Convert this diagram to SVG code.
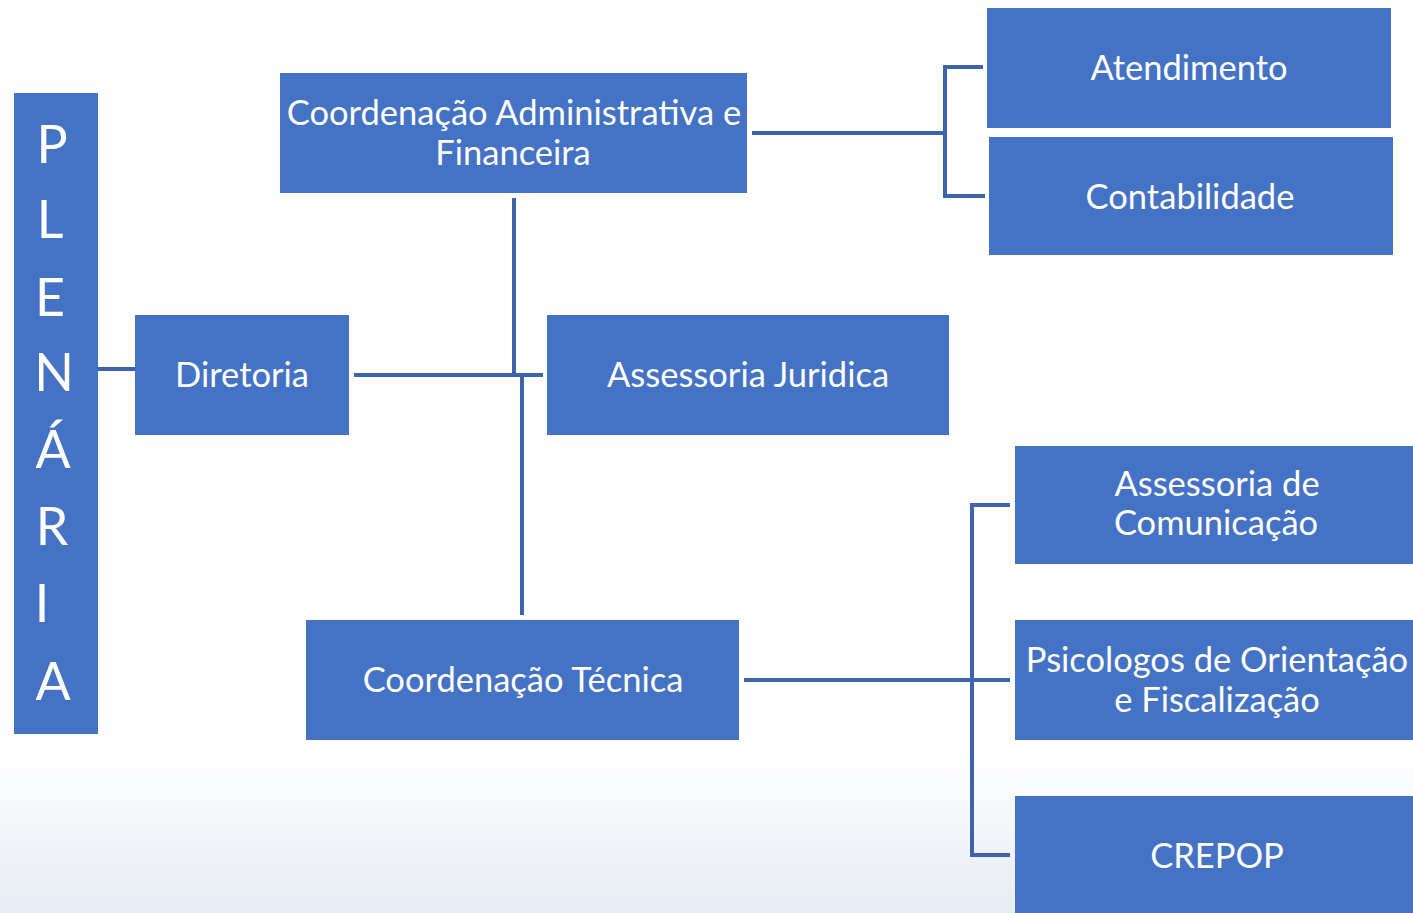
<svg xmlns="http://www.w3.org/2000/svg" width="1413" height="913" viewBox="0 0 1413 913">
<defs>
<linearGradient id="bg" x1="0" y1="0" x2="0" y2="1">
<stop offset="0" stop-color="#ffffff"/>
<stop offset="0.82" stop-color="#ffffff"/>
<stop offset="1" stop-color="#e6ecf4"/>
</linearGradient>
<style>
.box{fill:#4472C4;}
.t{fill:#ffffff;font-family:Lato,"Open Sans","Liberation Sans",sans-serif;font-size:34.5px;text-anchor:middle;dominant-baseline:central;}
.big{font-size:52px;}
.c{stroke:#3C63AC;stroke-width:4;fill:none;}
</style>
</defs>
<rect width="1413" height="913" fill="url(#bg)"/>
<g id="connectors">
<line class="c" x1="98" y1="369" x2="135" y2="369"/>
<line class="c" x1="354" y1="375" x2="543" y2="375"/>
<line class="c" x1="514" y1="198" x2="514" y2="375"/>
<line class="c" x1="522" y1="375" x2="522" y2="615"/>
<line class="c" x1="752" y1="133" x2="945" y2="133"/>
<polyline class="c" points="983,67 945,67 945,196 985,196"/>
<line class="c" x1="744" y1="680" x2="1010" y2="680"/>
<polyline class="c" points="1010,505 972,505 972,855 1010,855"/>
</g>
<g id="plenaria">
<rect class="box" x="14" y="93" width="84" height="641"/>
<text class="t big" x="52" y="143">P</text>
<text class="t big" x="50" y="218">L</text>
<text class="t big" x="50" y="296">E</text>
<text class="t big" x="54" y="371">N</text>
<text class="t big" x="53" y="448">Á</text>
<text class="t big" x="52" y="525">R</text>
<text class="t big" x="42" y="602">I</text>
<text class="t big" x="53" y="680">A</text>
</g>
<g id="diretoria">
<rect class="box" x="135" y="315" width="214" height="120"/>
<text class="t" x="242" y="373">Diretoria</text>
</g>
<g id="caf">
<rect class="box" x="280" y="73" width="467" height="120"/>
<text class="t" x="514" y="111">Coordenação Administrativa e</text>
<text class="t" x="513" y="151">Financeira</text>
</g>
<g id="atendimento">
<rect class="box" x="987" y="8" width="404" height="120"/>
<text class="t" x="1189" y="66">Atendimento</text>
</g>
<g id="contabilidade">
<rect class="box" x="989" y="137" width="404" height="118"/>
<text class="t" x="1190" y="195">Contabilidade</text>
</g>
<g id="juridica">
<rect class="box" x="547" y="315" width="402" height="120"/>
<text class="t" x="748" y="373">Assessoria Juridica</text>
</g>
<g id="tecnica">
<rect class="box" x="306" y="620" width="433" height="120"/>
<text class="t" x="523" y="678">Coordenação Técnica</text>
</g>
<g id="comunicacao">
<rect class="box" x="1015" y="446" width="398" height="118"/>
<text class="t" x="1217" y="482">Assessoria de</text>
<text class="t" x="1216" y="521">Comunicação</text>
</g>
<g id="psicologos">
<rect class="box" x="1015" y="620" width="398" height="120"/>
<text class="t" x="1217" y="658">Psicologos de Orientação</text>
<text class="t" x="1217" y="698">e Fiscalização</text>
</g>
<g id="crepop">
<rect class="box" x="1015" y="796" width="398" height="117"/>
<text class="t" x="1217" y="854">CREPOP</text>
</g>
</svg>
